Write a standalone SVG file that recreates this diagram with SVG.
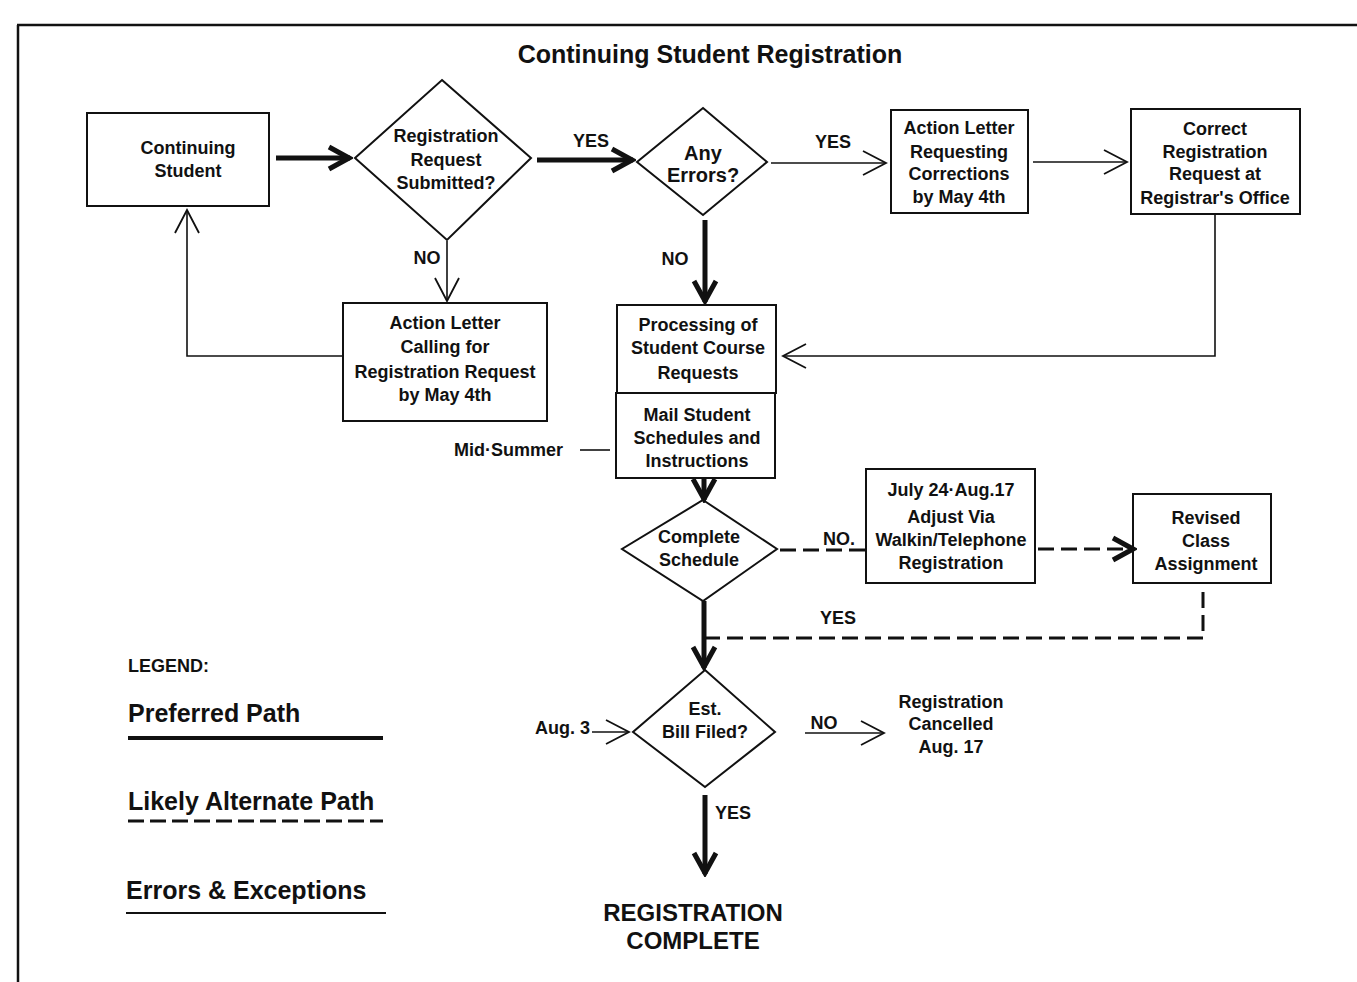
<svg xmlns="http://www.w3.org/2000/svg" width="1357" height="982" viewBox="0 0 1357 982">
<style>
text{font-family:"Liberation Sans",Arial,sans-serif;font-weight:bold;fill:#111;text-anchor:middle;font-size:18px}
.box{fill:none;stroke:#111;stroke-width:2}
.thin{fill:none;stroke:#111;stroke-width:1.6}
.thick{fill:none;stroke:#111;stroke-width:5}
.dash{fill:none;stroke:#111;stroke-width:3;stroke-dasharray:16 7}
.lg{text-anchor:start}
</style>
<defs>
<marker id="ah" markerUnits="userSpaceOnUse" viewBox="0 0 28 28" markerWidth="28" markerHeight="28" refX="26" refY="14" orient="auto">
<path d="M3,2 L26,14 L3,26" fill="none" stroke="#111" stroke-width="1.8"/>
</marker>
<marker id="ahk" markerUnits="userSpaceOnUse" viewBox="0 0 28 28" markerWidth="28" markerHeight="28" refX="25" refY="14" orient="auto">
<path d="M4,3 L24,14 L4,25" fill="none" stroke="#111" stroke-width="5"/>
</marker>
</defs>
<rect width="1357" height="982" fill="#fff"/>
<g id="frame">
<path d="M17,25 H1357 M18,25 V982" fill="none" stroke="#111" stroke-width="2.5"/>
</g>
<text x="710" y="63" style="font-size:25px">Continuing Student Registration</text>

<g id="connectors">
<path class="thick" d="M276,158 H350" marker-end="url(#ahk)"/>
<path class="thick" d="M537,160 H633" marker-end="url(#ahk)"/>
<path class="thin" d="M771,163 H886" marker-end="url(#ah)"/>
<path class="thin" d="M1033,162 H1127" marker-end="url(#ah)"/>
<path class="thin" d="M1215,214 V356 H783" marker-end="url(#ah)"/>
<path class="thin" d="M447,241 V301" marker-end="url(#ah)"/>
<path class="thin" d="M343,356 H187 V210" marker-end="url(#ah)"/>
<path class="thick" d="M705,220 V302" marker-end="url(#ahk)"/>
<path class="thin" d="M580,450 H610"/>
<path class="thick" d="M704,478 V500" marker-end="url(#ahk)"/>
<path class="dash" d="M780,550 H866"/>
<path class="dash" d="M1038,549 H1134" marker-end="url(#ahk)"/>
<path class="dash" d="M1203,592 V638 H705"/>
<path class="thick" d="M704,601 V668" marker-end="url(#ahk)"/>
<path class="thin" d="M592,732 H629" marker-end="url(#ah)"/>
<path class="thin" d="M805,733 H884" marker-end="url(#ah)"/>
<path class="thick" d="M705,795 V874" marker-end="url(#ahk)"/>
</g>

<g id="labels">
<text x="591" y="147">YES</text>
<text x="833" y="148">YES</text>
<text x="427" y="264">NO</text>
<text x="675" y="265">NO</text>
<text x="563" y="456" style="text-anchor:end">Mid·Summer</text>
<text x="839" y="545">NO.</text>
<text x="838" y="624">YES</text>
<text x="590" y="734" style="text-anchor:end">Aug. 3</text>
<text x="824" y="729">NO</text>
<text x="733" y="819">YES</text>
</g>

<g id="n-continuing">
<rect class="box" x="87" y="113" width="182" height="93"/>
<text x="188" y="154">Continuing</text>
<text x="188" y="177">Student</text>
</g>
<g id="n-submitted">
<polygon class="box" points="442,80 531,158 447,240 355,158"/>
<text x="446" y="142">Registration</text>
<text x="446" y="166">Request</text>
<text x="446" y="189">Submitted?</text>
</g>
<g id="n-errors">
<polygon class="box" points="703,108 767,162 703,215 637,162"/>
<text x="703" y="160" style="font-size:20px">Any</text>
<text x="703" y="182" style="font-size:20px">Errors?</text>
</g>
<g id="n-letter-corrections">
<rect class="box" x="891" y="110" width="137" height="103"/>
<text x="959" y="134">Action Letter</text>
<text x="959" y="158">Requesting</text>
<text x="959" y="180">Corrections</text>
<text x="959" y="203">by May 4th</text>
</g>
<g id="n-correct">
<rect class="box" x="1131" y="109" width="169" height="105"/>
<text x="1215" y="135">Correct</text>
<text x="1215" y="158">Registration</text>
<text x="1215" y="180">Request at</text>
<text x="1215" y="204">Registrar's Office</text>
</g>
<g id="n-letter-calling">
<rect class="box" x="343" y="303" width="204" height="118"/>
<text x="445" y="329">Action Letter</text>
<text x="445" y="353">Calling for</text>
<text x="445" y="378">Registration Request</text>
<text x="445" y="401">by May 4th</text>
</g>
<g id="n-processing">
<rect class="box" x="617" y="305" width="159" height="88"/>
<text x="698" y="331">Processing of</text>
<text x="698" y="354">Student Course</text>
<text x="698" y="379">Requests</text>
</g>
<g id="n-mail">
<rect class="box" x="616" y="393" width="159" height="85"/>
<text x="697" y="421">Mail Student</text>
<text x="697" y="444">Schedules and</text>
<text x="697" y="467">Instructions</text>
</g>
<g id="n-complete">
<polygon class="box" points="703,500 777,549 703,601 622,549"/>
<text x="699" y="543">Complete</text>
<text x="699" y="566">Schedule</text>
</g>
<g id="n-adjust">
<rect class="box" x="866" y="469" width="169" height="114"/>
<text x="951" y="496">July 24·Aug.17</text>
<text x="951" y="523">Adjust Via</text>
<text x="951" y="546">Walkin/Telephone</text>
<text x="951" y="569">Registration</text>
</g>
<g id="n-revised">
<rect class="box" x="1133" y="494" width="138" height="89"/>
<text x="1206" y="524">Revised</text>
<text x="1206" y="547">Class</text>
<text x="1206" y="570">Assignment</text>
</g>
<g id="n-bill">
<polygon class="box" points="705,670 775,732 705,787 633,732"/>
<text x="705" y="715">Est.</text>
<text x="705" y="738">Bill Filed?</text>
</g>
<g id="n-cancelled">
<text x="951" y="708">Registration</text>
<text x="951" y="730">Cancelled</text>
<text x="951" y="753">Aug. 17</text>
</g>
<g id="n-done">
<text x="693" y="921" style="font-size:24px">REGISTRATION</text>
<text x="693" y="949" style="font-size:24px">COMPLETE</text>
</g>

<g id="legend">
<text class="lg" x="128" y="672" style="font-size:18px">LEGEND:</text>
<text class="lg" x="128" y="722" style="font-size:25px">Preferred Path</text>
<path d="M128,738 H383" stroke="#111" stroke-width="4"/>
<text class="lg" x="128" y="810" style="font-size:25px">Likely Alternate Path</text>
<path d="M128,821 H383" stroke="#111" stroke-width="3" stroke-dasharray="16 6"/>
<text class="lg" x="126" y="899" style="font-size:25px">Errors &amp; Exceptions</text>
<path d="M126,913 H386" stroke="#111" stroke-width="2"/>
</g>
</svg>
